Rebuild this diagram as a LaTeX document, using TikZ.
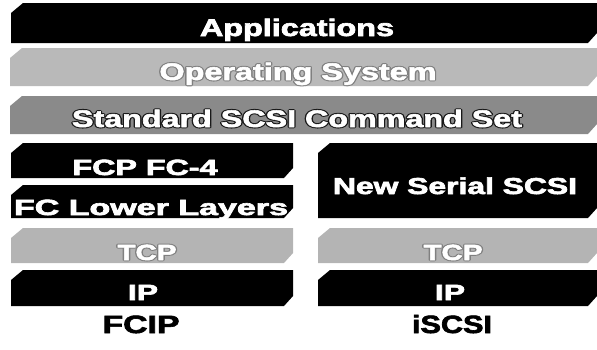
\documentclass[tikz,border=0pt]{standalone}
\usepackage{fontspec}
\usepackage{graphicx}
\setmainfont{Liberation Sans}
\definecolor{osgray}{HTML}{B9B9B9}
\definecolor{stdgray}{HTML}{8A8A8A}
\definecolor{tcpgray}{HTML}{B4B4B4}
% text filled and stroked (render mode 2), or stroked only (render mode 1)
\newcommand\rtxt[3]{\special{pdf:literal direct #1 RG #2 w 2 Tr}#3\special{pdf:literal direct 0 Tr}}
\newcommand\otxt[3]{\special{pdf:literal direct #1 RG #2 w 1 Tr 1 j}#3\special{pdf:literal direct 0 Tr}}
\newcommand\lbl[2]{\resizebox{#1pt}{\height}{\bfseries #2}}
\newcommand\chbar[5]{%
  \fill[#5] (#1,#2+10) -- (#1+12,#2) -- (#3,#2) -- (#3,#4-10) -- (#3-9,#4) -- (#1,#4) -- cycle;}
% outlined label: dark outline layer behind, white text on top
\newcommand\olabel[7]{%
  \node[txt,font=#7] at (#2,#3) {\lbl{#4}{\otxt{#6}{2.6}{#5}}};
  \node[txt,font=#7] (#1) at (#2,#3) {\lbl{#4}{\rtxt{1 1 1}{0.5}{#5}}};}
\begin{document}
\begin{tikzpicture}[x=1pt,y=-1pt,
  txt/.style={inner sep=0pt,outer sep=0pt,anchor=base,text=white},
  ]
\useasboundingbox (0,0) rectangle (597,349);
% bars
\chbar{11}{3}{597}{43}{black}
\chbar{10}{48}{597}{86}{osgray}
\chbar{10}{96}{597}{134}{stdgray}
\chbar{11}{143}{293}{178}{black}
\chbar{11}{185}{293}{218}{black}
\chbar{318}{143}{597}{218}{black}
\chbar{11}{228}{293}{263}{tcpgray}
\chbar{318}{228}{597}{263}{tcpgray}
\chbar{11}{270}{293}{306}{black}
\chbar{318}{270}{597}{306}{black}
% texts
\node[txt,font=\fontsize{24}{28}\selectfont] (app) at (297,36) {\lbl{194}{\rtxt{1 1 1}{0.6}{Applications}}};
\olabel{os}{298}{80}{277}{Operating System}{0.5 0.5 0.5}{\fontsize{24}{28}\selectfont}
\olabel{std}{297}{127}{450}{Standard SCSI Command Set}{0.1 0.1 0.1}{\fontsize{24}{28}\selectfont}
\node[txt,font=\fontsize{22}{26}\selectfont] (fcp) at (145,175) {\lbl{145}{\rtxt{1 1 1}{0.6}{FCP FC-4}}};
\node[txt,font=\fontsize{22}{26}\selectfont] (fcl) at (151,215) {\lbl{274}{\rtxt{1 1 1}{0.6}{FC Lower Layers}}};
\node[txt,font=\fontsize{23}{27}\selectfont] (nss) at (455,194) {\lbl{244}{\rtxt{1 1 1}{0.6}{New Serial SCSI}}};
\olabel{tcpl}{147}{260}{59}{TCP}{0.5 0.5 0.5}{\fontsize{22}{26}\selectfont}
\olabel{tcpr}{453}{260}{59}{TCP}{0.5 0.5 0.5}{\fontsize{22}{26}\selectfont}
\node[txt,font=\fontsize{22}{26}\selectfont] (ipl) at (143,300) {\lbl{30}{\rtxt{1 1 1}{0.6}{IP}}};
\node[txt,font=\fontsize{22}{26}\selectfont] (ipr) at (450,300) {\lbl{30}{\rtxt{1 1 1}{0.6}{IP}}};
\node[txt,text=black,font=\fontsize{25}{29}\selectfont] (fcip) at (141,333) {\lbl{77}{\rtxt{0 0 0}{0.6}{FCIP}}};
\node[txt,text=black,font=\fontsize{25}{29}\selectfont] (iscsi) at (452,333) {\lbl{80}{\rtxt{0 0 0}{0.6}{iSCSI}}};
\end{tikzpicture}
\end{document}
